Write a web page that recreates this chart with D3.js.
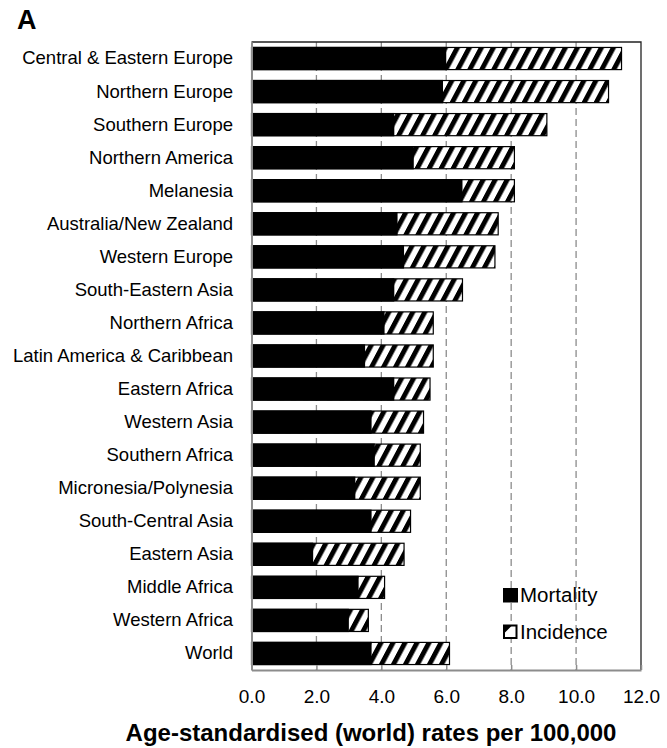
<!DOCTYPE html>
<html>
<head>
<meta charset="utf-8">
<script src="https://cdn.jsdelivr.net/npm/d3@7"></script>
<style>
  body { margin: 0; background: #fff; }
  svg { display: block; font-family: "Liberation Sans", Arial, sans-serif; }
</style>
</head>
<body>
<div id="chart"></div>
<script>
// Data
var regions = ["Central & Eastern Europe", "Northern Europe", "Southern Europe",
  "Northern America", "Melanesia", "Australia/New Zealand", "Western Europe",
  "South-Eastern Asia", "Northern Africa", "Latin America & Caribbean",
  "Eastern Africa", "Western Asia", "Southern Africa", "Micronesia/Polynesia",
  "South-Central Asia", "Eastern Asia", "Middle Africa", "Western Africa", "World"];
var mortality = [6.0, 5.9, 4.4, 5.0, 6.5, 4.5, 4.7, 4.4, 4.1, 3.5,
  4.4, 3.7, 3.8, 3.2, 3.7, 1.9, 3.3, 3.0, 3.7];
var incidence = [11.4, 11.0, 9.1, 8.1, 8.1, 7.6, 7.5, 6.5, 5.6, 5.6,
  5.5, 5.3, 5.2, 5.2, 4.9, 4.7, 4.1, 3.6, 6.1];
var xTicks = [0, 2, 4, 6, 8, 10, 12];

var width = 667, height = 748;
var margin = { top: 42, right: 26, bottom: 78, left: 251.5 };

var svg = d3.select("#chart").append("svg")
  .attr("width", width)
  .attr("height", height);

// hatch pattern for incidence
var defs = svg.append("defs");
defs.append("pattern")
  .attr("id", "hatch")
  .attr("patternUnits", "userSpaceOnUse")
  .attr("width", 12)
  .attr("height", 12)
  .attr("patternTransform", "skewX(-28)")
  .call(function (p) {
    p.append("rect").attr("width", 12).attr("height", 12).attr("fill", "#fff");
    p.append("rect").attr("x", 0).attr("width", 5.5).attr("height", 12).attr("fill", "#000");
  });

var x = d3.scaleLinear()
  .domain([0, 12])
  .range([margin.left, width - margin.right]);

var y = d3.scaleBand()
  .domain(regions)
  .range([margin.top, height - margin.bottom])
  .paddingInner(0.33)
  .paddingOuter(0.165);

var rows = regions.map(function (r, i) {
  return { name: r, mort: mortality[i], inc: incidence[i] };
});

// dashed gridlines
svg.append("g").selectAll("line")
  .data(xTicks.slice(1, -1)).enter()
  .append("line")
  .attr("x1", function (d) { return x(d); })
  .attr("x2", function (d) { return x(d); })
  .attr("y1", margin.top)
  .attr("y2", height - margin.bottom)
  .style("stroke", "#8c8c8c")
  .style("stroke-width", 1.3)
  .style("stroke-dasharray", "7,4");

// frame (top and right)
svg.append("path")
  .attr("d", "M" + margin.left + "," + margin.top + "H" + x(12) + "V" + (height - margin.bottom))
  .style("fill", "none")
  .style("stroke", "#222")
  .style("stroke-width", 1.3);

// incidence bars (hatched)
svg.append("g").selectAll("rect")
  .data(rows).enter()
  .append("rect")
  .attr("x", x(0))
  .attr("y", function (d) { return y(d.name); })
  .attr("width", function (d) { return x(d.inc) - x(0); })
  .attr("height", y.bandwidth())
  .style("fill", "url(#hatch)")
  .style("stroke", "#000")
  .style("stroke-width", 1.2);

// mortality bars (solid)
svg.append("g").selectAll("rect")
  .data(rows).enter()
  .append("rect")
  .attr("x", x(0))
  .attr("y", function (d) { return y(d.name) - 0.6; })
  .attr("width", function (d) { return x(d.mort) - x(0); })
  .attr("height", y.bandwidth() + 1.2)
  .style("fill", "#000");

// bottom axis
var xAxis = svg.append("g")
  .attr("transform", "translate(0," + (height - margin.bottom) + ")")
  .call(d3.axisBottom(x).tickValues(xTicks).tickSizeInner(-5).tickSizeOuter(0)
    .tickPadding(19.5).tickFormat(d3.format(".1f")));
xAxis.select(".domain").style("stroke", "#8c8c8c").style("stroke-width", 2);
xAxis.selectAll(".tick line").style("stroke", "#8c8c8c").style("stroke-width", 1.5);
xAxis.selectAll("text").style("font-size", "19px").style("fill", "#000")
  .style("font-family", "'Liberation Sans', Arial, sans-serif");

// left axis
var yAxis = svg.append("g")
  .attr("transform", "translate(" + margin.left + ",0)")
  .call(d3.axisLeft(y).tickSize(0).tickPadding(18.5));
yAxis.select(".domain").style("stroke", "#8c8c8c").style("stroke-width", 2);
yAxis.selectAll("text").style("font-size", "18.5px").style("fill", "#000")
  .style("font-family", "'Liberation Sans', Arial, sans-serif");

// axis title
svg.append("text")
  .attr("x", 371)
  .attr("y", 740.5)
  .attr("text-anchor", "middle")
  .style("font-size", "24px")
  .style("font-weight", "bold")
  .text("Age-standardised (world) rates per 100,000");

// panel letter
svg.append("text")
  .attr("x", 17)
  .attr("y", 29)
  .style("font-size", "27px")
  .style("font-weight", "bold")
  .text("A");

// legend
var legend = svg.append("g").attr("transform", "translate(503,0)");
legend.append("rect")
  .attr("x", 0).attr("y", 588).attr("width", 15).attr("height", 14.5)
  .style("fill", "#000");
legend.append("text")
  .attr("x", 17).attr("y", 602)
  .style("font-size", "20.5px")
  .text("Mortality");
legend.append("rect")
  .attr("x", 1).attr("y", 625.5).attr("width", 12.5).attr("height", 12.5)
  .style("fill", "#fff").style("stroke", "#000").style("stroke-width", 2);
legend.append("path")
  .attr("d", "M1,625.5H9L1,633.5Z")
  .style("fill", "#000");
legend.append("text")
  .attr("x", 17).attr("y", 638.5)
  .style("font-size", "20.5px")
  .text("Incidence");
</script>
</body>
</html>
